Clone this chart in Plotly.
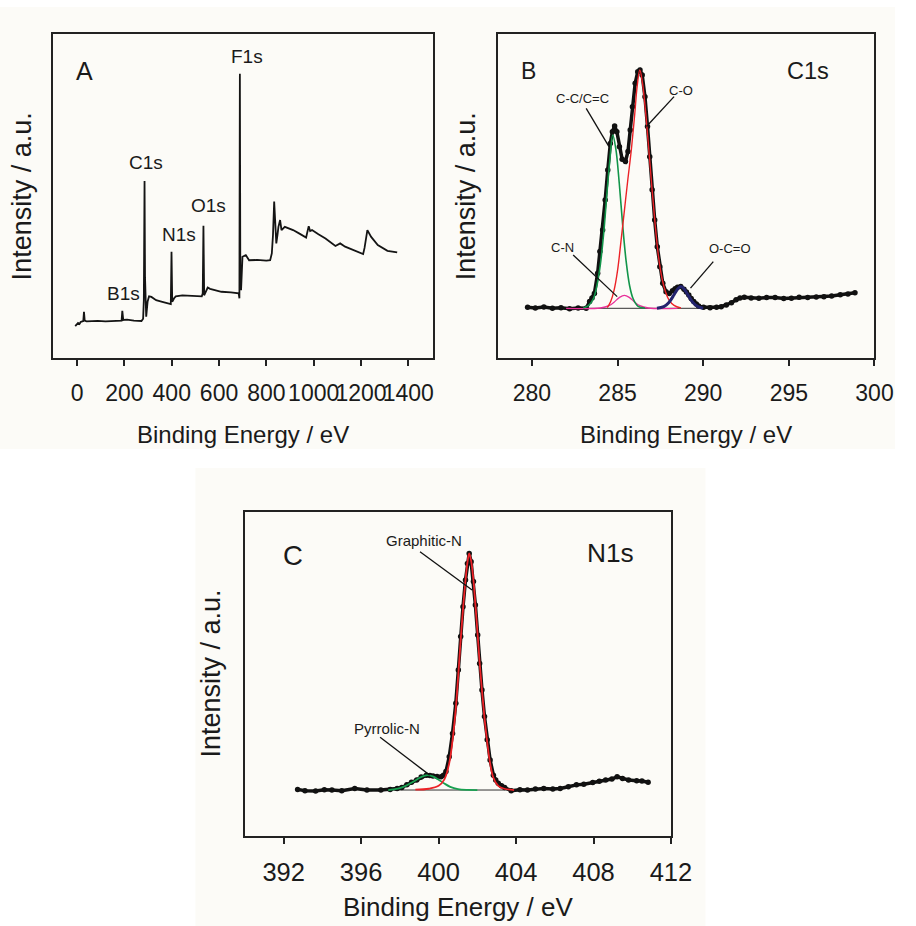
import plotly.graph_objects as go

FONT = "Liberation Sans, Arial, sans-serif"
TXT = "#1a1a1a"
BG = "#fcfbf7"

# ---------------- Panel A: survey spectrum (binding energy eV, intensity a.u.)
survey = [(-8, 9.9), (-2, 10.3), (4, 10.9), (10, 10.6), (15, 11.2), (22, 11.4), (26, 11.5),
          (29, 14.3), (32, 11.6), (40, 11.4), (60, 11.5), (87, 11.5), (120, 11.4), (150, 11.5),
          (183, 11.5), (188, 11.6), (191, 14.6), (195, 11.8), (211, 11.9), (240, 11.6),
          (272, 11.5), (279, 12.2), (282, 17.9), (285, 54.6), (287, 25.0), (289, 14.0),
          (292, 12.8), (298, 17.5), (304, 19.1), (314, 18.9), (334, 17.9), (360, 17.4),
          (389, 16.9), (396, 16.7), (399, 32.8), (402, 17.4), (410, 18.5), (417, 19.1),
          (445, 19.4), (480, 19.2), (527, 19.1), (531, 20.0), (534, 40.8), (537, 19.4),
          (545, 20.8), (552, 21.8), (562, 21.4), (610, 20.5), (650, 20.3), (679, 20.0),
          (683, 20.0), (686, 18.5), (688, 87.7), (690, 22.0), (693, 21.0), (699, 31.3),
          (713, 31.8), (727, 30.2), (760, 30.3), (800, 30.1), (816, 30.2), (823, 32.3),
          (828, 38.0), (833, 48.3), (838, 38.5), (842, 35.4), (847, 38.0), (851, 40.5),
          (858, 42.6), (864, 39.5), (878, 40.5), (913, 39.5), (940, 38.4), (968, 37.2),
          (972, 38.5), (979, 40.7), (985, 39.2), (993, 39.5), (1020, 38.2), (1050, 36.9),
          (1092, 34.6), (1104, 35.0), (1112, 35.4), (1133, 34.4), (1170, 33.3), (1209, 32.1),
          (1215, 34.0), (1227, 39.5), (1243, 37.4), (1271, 34.9), (1312, 33.1), (1330, 32.9),
          (1353, 32.6)]
survey_labels = ["B1s", "C1s", "N1s", "O1s", "F1s"]
survey_label_x = [194, 293, 432, 557, 716]
survey_label_y = [20.0, 60.4, 38.2, 47.2, 93.0]
a_ticks = [0, 200, 400, 600, 800, 1000, 1200, 1400]

# ---------------- Panel B: C1s
c1s_data = [(279.75, 15.7), (280.2, 15.5), (280.7, 15.8), (281.2, 15.4), (281.7, 15.6),
            (282.2, 15.3), (282.7, 15.5), (283.17, 15.4), (283.37, 17.5), (283.51, 18.6),
            (283.65, 20.0), (283.84, 26.2), (283.97, 32.9), (284.13, 39.5), (284.28, 48.8),
            (284.43, 58.0), (284.58, 66.2), (284.7, 69.8), (284.83, 71.6), (284.96, 69.8),
            (285.11, 65.2), (285.27, 61.3), (285.46, 60.6), (285.61, 63.7), (285.74, 70.3),
            (285.87, 77.5), (286.03, 84.7), (286.18, 88.3), (286.31, 88.8), (286.44, 87.3),
            (286.6, 80.6), (286.75, 71.4), (286.88, 62.1), (287.02, 51.9), (287.17, 42.6),
            (287.32, 34.4), (287.47, 28.2), (287.64, 23.1), (287.83, 20.5), (288.02, 20.0),
            (288.21, 20.8), (288.36, 21.4), (288.5, 21.9), (288.69, 22.1), (288.88, 21.3),
            (289.02, 20.4), (289.16, 19.5), (289.3, 18.4), (289.45, 17.5), (289.6, 16.7),
            (289.73, 16.1), (290.02, 15.7), (290.4, 15.6), (290.78, 15.7), (291.05, 15.9),
            (291.35, 16.4), (291.65, 17.1), (291.92, 18.0), (292.15, 18.6), (292.4, 18.8),
            (292.8, 18.6), (293.25, 18.5), (293.7, 18.7), (294.2, 18.7), (294.7, 18.4),
            (295.15, 18.5), (295.6, 18.8), (296.1, 18.7), (296.6, 18.9), (297.05, 19.0),
            (297.5, 19.2), (298.0, 19.6), (298.45, 19.8), (298.86, 20.2)]
cc_fit = [(283.0, 15.5), (283.3, 16.2), (283.6, 18.5), (283.8, 22.5), (284.0, 29.0),
          (284.2, 39.0), (284.4, 52.0), (284.55, 61.0), (284.72, 68.8), (284.9, 64.5),
          (285.1, 54.0), (285.3, 41.0), (285.5, 30.0), (285.7, 22.5), (285.9, 18.5),
          (286.2, 16.0), (286.6, 15.5)]
co_fit = [(284.4, 15.6), (284.6, 17.5), (284.8, 21.0), (285.0, 27.0), (285.2, 36.0),
          (285.4, 45.5), (285.6, 55.0), (285.8, 64.0), (286.0, 75.0), (286.15, 84.0),
          (286.3, 88.8), (286.45, 85.0), (286.6, 78.0), (286.8, 66.0), (287.0, 53.0),
          (287.2, 41.0), (287.4, 31.0), (287.6, 24.5), (287.8, 20.5), (288.0, 18.0),
          (288.3, 16.3), (288.7, 15.5)]
cn_fit = [(282.0, 15.4), (284.0, 15.5), (284.5, 16.2), (284.8, 17.3), (285.1, 18.7),
          (285.4, 19.4), (285.7, 18.7), (286.0, 17.3), (286.3, 16.2), (286.8, 15.5),
          (288.5, 15.4)]
oco_fit = [(287.3, 15.4), (287.7, 15.9), (288.0, 17.2), (288.3, 19.6), (288.5, 21.3),
           (288.7, 22.1), (288.9, 21.3), (289.1, 19.6), (289.4, 17.2), (289.7, 15.9),
           (290.0, 15.4)]
c1s_baseline = [(282.0, 15.4), (290.0, 15.4)]
b_labels = ["C-C/C=C", "C-O", "C-N", "O-C=O"]
b_label_xy = [(282.94, 80.1), (288.69, 82.4), (281.79, 34.2), (291.57, 33.9)]
b_pointer = [((283.17, 77.0), (284.5, 65.2)), ((288.3, 80.6), (286.69, 71.4)),
             ((282.41, 31.8), (284.98, 19.0)), ((290.59, 29.8), (289.26, 21.6))]
b_ticks = [280, 285, 290, 295, 300]

# ---------------- Panel C: N1s
n1s_data = [(392.72, 14.4), (393.1, 14.0), (393.65, 13.9), (394.1, 14.3), (394.49, 14.2),
            (395.0, 14.0), (395.67, 14.7), (396.3, 14.2), (397.02, 14.2), (397.5, 14.4),
            (397.86, 14.7), (398.1, 15.0), (398.36, 15.8), (398.6, 16.6), (398.87, 17.3),
            (399.1, 18.2), (399.37, 18.8), (399.55, 18.7), (399.71, 18.5), (399.92, 18.4),
            (400.13, 18.3), (400.25, 18.8), (400.38, 19.9), (400.55, 24.5), (400.72, 31.7),
            (400.89, 41.0), (401.02, 51.3), (401.14, 61.6), (401.26, 70.8), (401.39, 79.1),
            (401.49, 84.2), (401.58, 87.3), (401.68, 84.7), (401.8, 78.6), (401.9, 71.4),
            (402.02, 62.1), (402.12, 53.3), (402.24, 45.1), (402.37, 36.9), (402.51, 29.7),
            (402.66, 23.5), (402.83, 18.8), (402.95, 17.3), (403.08, 16.3), (403.25, 15.5),
            (403.41, 15.0), (403.75, 14.0), (404.2, 14.3), (404.59, 14.2), (405.0, 14.5),
            (405.43, 14.7), (405.9, 14.5), (406.28, 14.7), (406.7, 15.2), (407.12, 15.8),
            (407.5, 16.0), (407.96, 16.5), (408.3, 16.9), (408.63, 17.3), (408.95, 17.6),
            (409.22, 18.3), (409.5, 17.8), (409.81, 17.3), (410.23, 17.1), (410.5, 17.0),
            (410.82, 16.6)]
graphitic_fit = [(398.8, 14.3), (399.5, 14.6), (400.0, 15.5), (400.3, 17.5), (400.55, 22.5),
                 (400.72, 29.5), (400.89, 39.5), (401.02, 50.0), (401.14, 60.5), (401.26, 70.0),
                 (401.39, 79.0), (401.49, 84.5), (401.58, 87.3), (401.68, 85.0), (401.8, 79.0),
                 (401.9, 71.5), (402.02, 62.0), (402.12, 53.5), (402.24, 45.0), (402.37, 36.5),
                 (402.51, 29.0), (402.66, 22.5), (402.83, 18.0), (403.08, 15.5), (403.4, 14.6),
                 (403.9, 14.2)]
pyrrolic_fit = [(397.4, 14.2), (397.9, 14.6), (398.3, 15.5), (398.7, 16.8), (399.0, 17.9),
                (399.25, 18.6), (399.45, 18.8), (399.7, 18.4), (400.0, 17.4), (400.3, 16.2),
                (400.6, 15.2), (401.0, 14.5), (401.5, 14.25), (402.0, 14.2)]
n1s_baseline = [(397.7, 14.2), (404.2, 14.2)]
c_labels = ["Graphitic-N", "Pyrrolic-N"]
c_label_xy = [(399.25, 91.2), (397.31, 33.3)]
c_pointer = [((399.04, 87.8), (401.73, 76.0)), ((396.98, 30.5), (399.54, 18.8))]
c_ticks = [392, 396, 400, 404, 408, 412]

W, H = 916, 926


def xs(pts):
    return [p[0] for p in pts]


def ys(pts):
    return [p[1] for p in pts]


def pxx(v):
    return v / W


def pxy(v):
    return 1 - v / H


fig = go.Figure()

# Panel A
fig.add_trace(go.Scatter(x=xs(survey), y=ys(survey), mode="lines",
                         line=dict(color="#141414", width=1.8), xaxis="x", yaxis="y"))

# Panel B
fig.add_trace(go.Scatter(x=xs(c1s_baseline), y=ys(c1s_baseline), mode="lines",
                         line=dict(color="#333", width=1), xaxis="x2", yaxis="y2"))
fig.add_trace(go.Scatter(x=xs(c1s_data), y=ys(c1s_data), mode="lines+markers",
                         line=dict(color="#111", width=3.5),
                         marker=dict(color="#111", size=5.5), xaxis="x2", yaxis="y2"))
for pts, col, w in [(cn_fit, "#e8309a", 1.3), (cc_fit, "#12954a", 1.6),
                    (co_fit, "#ec2227", 1.4), (oco_fit, "#23236e", 3.0)]:
    fig.add_trace(go.Scatter(x=xs(pts), y=ys(pts), mode="lines", line_shape="spline",
                             line=dict(color=col, width=w), xaxis="x2", yaxis="y2"))

# Panel C
fig.add_trace(go.Scatter(x=xs(n1s_baseline), y=ys(n1s_baseline), mode="lines",
                         line=dict(color="#333", width=1), xaxis="x3", yaxis="y3"))
fig.add_trace(go.Scatter(x=xs(n1s_data), y=ys(n1s_data), mode="lines+markers",
                         line=dict(color="#111", width=3.5),
                         marker=dict(color="#111", size=5.5), xaxis="x3", yaxis="y3"))
fig.add_trace(go.Scatter(x=xs(pyrrolic_fit), y=ys(pyrrolic_fit), mode="lines", line_shape="spline",
                         line=dict(color="#18a050", width=1.8), xaxis="x3", yaxis="y3"))
fig.add_trace(go.Scatter(x=xs(graphitic_fit), y=ys(graphitic_fit), mode="lines", line_shape="spline",
                         line=dict(color="#ec2227", width=1.8), xaxis="x3", yaxis="y3"))

axis_common = dict(showline=True, mirror=True, linecolor="#222", linewidth=1.6,
                   showgrid=False, zeroline=False)
xcommon = dict(axis_common, ticks="outside", ticklen=6, tickwidth=1.6, tickcolor="#222",
               tickangle=0, tickfont=dict(family=FONT, size=23, color=TXT),
               ticklabelstandoff=7)
ycommon = dict(axis_common, ticks="", showticklabels=False, range=[0, 100])

fig.update_layout(
    width=W, height=H, margin=dict(l=0, r=0, t=0, b=0),
    paper_bgcolor="white", plot_bgcolor=BG, showlegend=False,
    xaxis=dict(xcommon, domain=[pxx(54), pxx(443.3)], range=[-103, 1505],
               tickvals=a_ticks, anchor="y"),
    yaxis=dict(ycommon, domain=[pxy(358.3), pxy(33.7)], anchor="x"),
    xaxis2=dict(xcommon, domain=[pxx(509.3), pxx(895)], range=[278, 300],
                tickvals=b_ticks, anchor="y2"),
    yaxis2=dict(ycommon, domain=[pxy(358.3), pxy(33.7)], anchor="x2"),
    xaxis3=dict(xcommon, domain=[pxx(250.7), pxx(686.7)], range=[390, 412],
                tickvals=c_ticks, anchor="y3",
                tickfont=dict(family=FONT, size=25.5, color=TXT)),
    yaxis3=dict(ycommon, domain=[pxy(836), pxy(512.3)], anchor="x3"),
)

# background blocks of the two source images
fig.add_shape(type="rect", xref="paper", yref="paper", x0=0, x1=1, y0=pxy(449), y1=pxy(7),
              fillcolor=BG, line_width=0, layer="below")
fig.add_shape(type="rect", xref="paper", yref="paper", x0=pxx(200), x1=pxx(722), y0=0, y1=pxy(468),
              fillcolor=BG, line_width=0, layer="below")

ann = []


def txt(x, y, s, size, xref="paper", yref="paper", angle=0):
    ann.append(dict(x=x, y=y, xref=xref, yref=yref, text=s, showarrow=False,
                    xanchor="center", yanchor="middle", textangle=angle,
                    font=dict(family=FONT, size=size, color=TXT)))


# axis titles
for cx, cy, size in [(248.7, 434, 24), (702, 434, 24), (468.7, 907, 26)]:
    txt(pxx(cx), pxy(cy), "Binding Energy / eV", size)
for cx, cy in [(22.9, 196), (477.2, 196), (215.5, 674)]:
    txt(pxx(cx), pxy(cy), "Intensity / a.u.", 27, angle=-90)

# panel A labels
txt(32, 88.4, "A", 25, "x", "y")
for s, lx, ly in zip(survey_labels, survey_label_x, survey_label_y):
    txt(lx, ly, s, 19, "x", "y")

# panel B labels
txt(279.8, 88.6, "B", 23, "x2", "y2")
txt(296.14, 88.6, "C1s", 23.5, "x2", "y2")
for s, (lx, ly) in zip(b_labels, b_label_xy):
    txt(lx, ly, s, 13, "x2", "y2")
for (p0, p1) in b_pointer:
    fig.add_shape(type="line", xref="x2", yref="y2", x0=p0[0], y0=p0[1], x1=p1[0], y1=p1[1],
                  line=dict(color="#111", width=1.3))

# panel C labels
txt(392.47, 86.6, "C", 27.5, "x3", "y3")
txt(408.88, 87.3, "N1s", 26.3, "x3", "y3")
for s, (lx, ly) in zip(c_labels, c_label_xy):
    txt(lx, ly, s, 15, "x3", "y3")
for (p0, p1) in c_pointer:
    fig.add_shape(type="line", xref="x3", yref="y3", x0=p0[0], y0=p0[1], x1=p1[0], y1=p1[1],
                  line=dict(color="#111", width=1.3))

fig.update_layout(annotations=ann)
fig.write_html("out.html")
